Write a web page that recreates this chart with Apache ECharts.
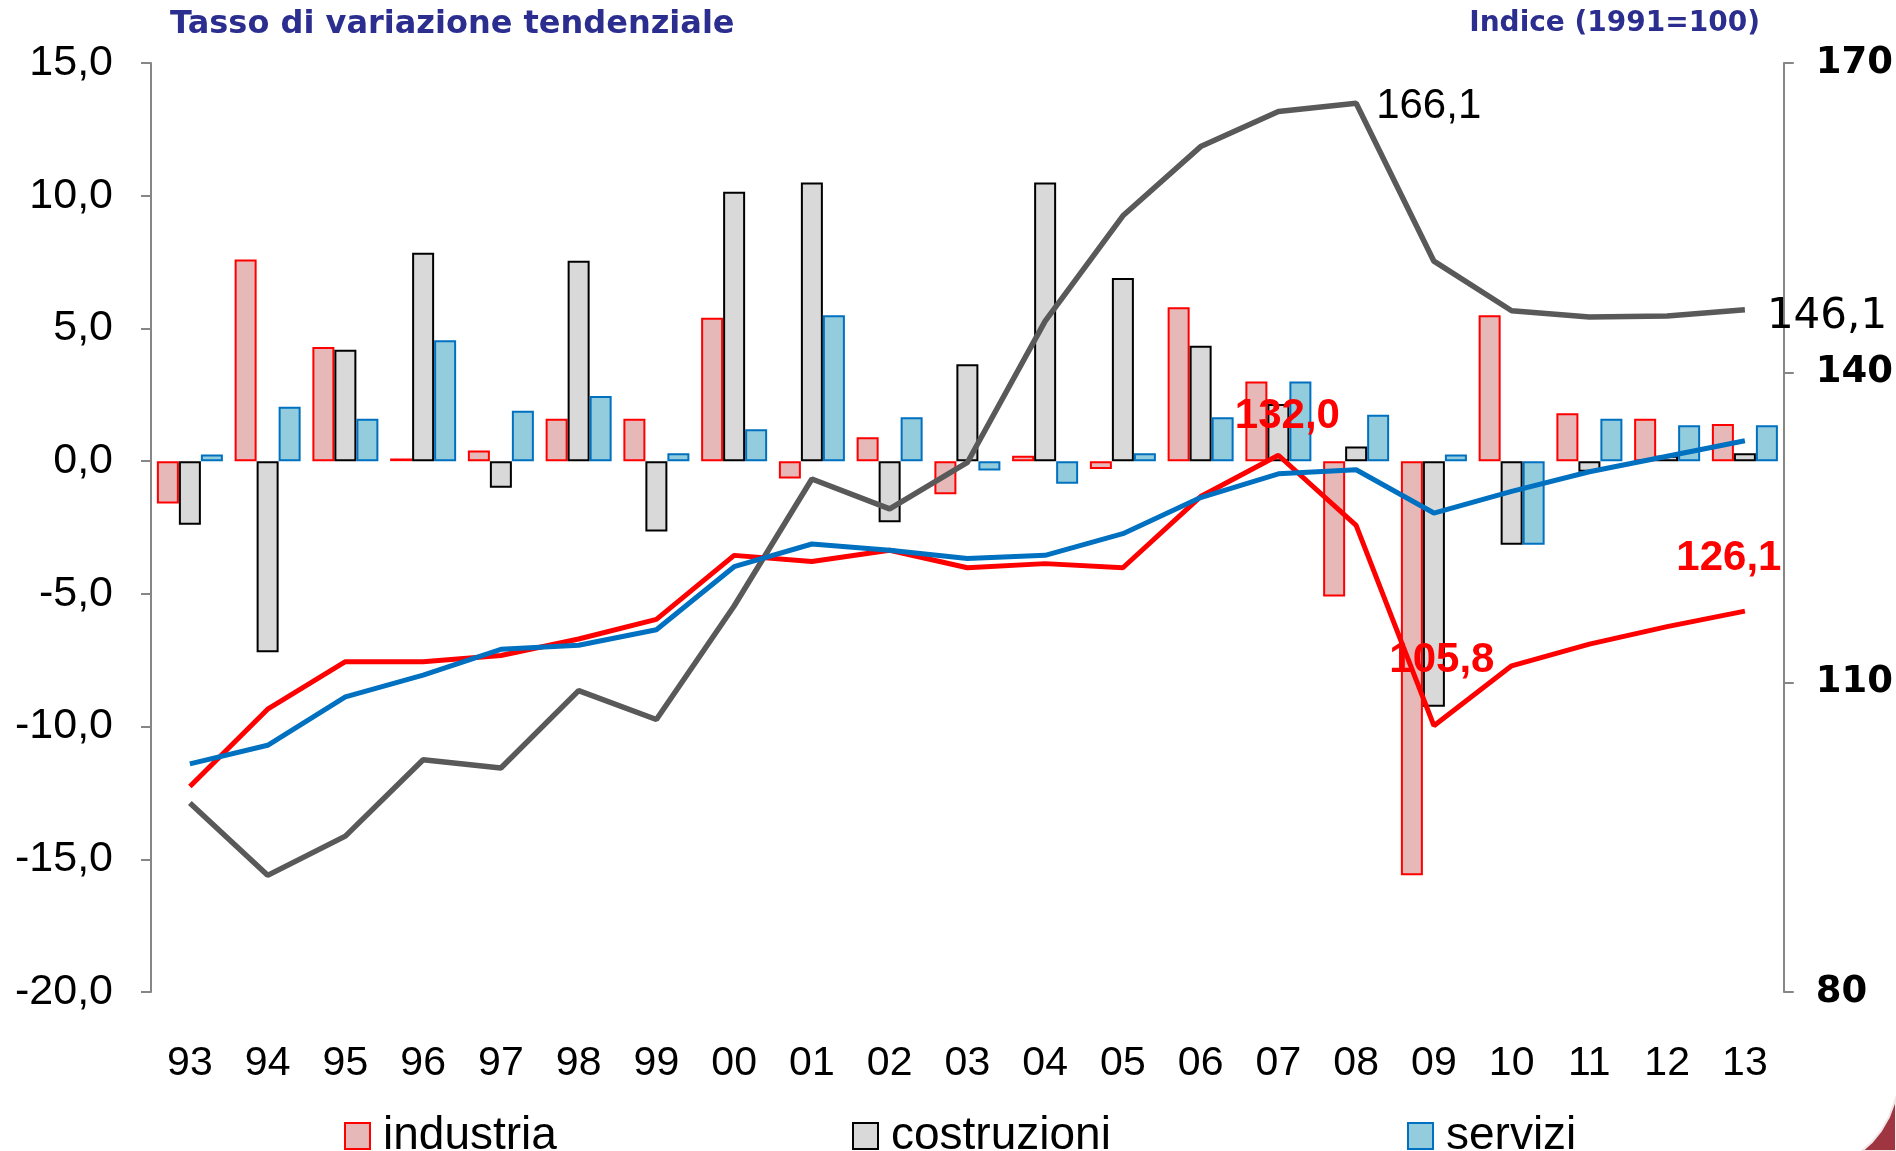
<!DOCTYPE html>
<html>
<head>
<meta charset="utf-8">
<script src="https://cdn.jsdelivr.net/npm/echarts@6/dist/echarts.min.js"></script>
<style>
html, body { margin: 0; padding: 0; background: #fff; }
#chart { width: 1896px; height: 1151px; }
</style>
</head>
<body>
<div id="chart"></div>
<script>
// anni (asse delle categorie)
var anni = ['93','94','95','96','97','98','99','00','01','02','03','04','05','06','07','08','09','10','11','12','13'];

// tassi di variazione tendenziale (asse sinistro)
var industriaVar    = [-1.6, 7.6, 4.3, 0.1, 0.4, 1.6, 1.6, 5.4, -0.65, 0.9, -1.25, 0.2, -0.3, 5.8, 3.0, -5.1, -15.6, 5.5, 1.8, 1.6, 1.4];
var costruzioniVar  = [-2.4, -7.2, 4.2, 7.85, -1.0, 7.55, -2.65, 10.15, 10.5, -2.3, 3.65, 10.5, 6.9, 4.35, 2.15, 0.55, -9.25, -3.15, -0.4, 0.2, 0.3];
var serviziVar      = [0.25, 2.05, 1.6, 4.55, 1.9, 2.45, 0.3, 1.2, 5.5, 1.65, -0.35, -0.85, 0.3, 1.65, 3.0, 1.75, 0.25, -3.15, 1.6, 1.35, 1.35];

// indici 1991=100 (asse destro)
var industriaIdx    = [99.9, 107.4, 112.0, 112.0, 112.6, 114.2, 116.1, 122.3, 121.7, 122.8, 121.1, 121.5, 121.1, 128.0, 132.0, 125.2, 105.8, 111.6, 113.7, 115.4, 116.9];
var costruzioniIdx  = [98.3, 91.3, 95.1, 102.5, 101.7, 109.2, 106.4, 117.4, 129.7, 126.8, 131.3, 145.0, 155.2, 161.9, 165.3, 166.1, 150.8, 146.0, 145.4, 145.5, 146.1];
var serviziIdx      = [102.1, 103.9, 108.6, 110.7, 113.2, 113.6, 115.1, 121.2, 123.4, 122.8, 122.0, 122.3, 124.4, 127.9, 130.2, 130.6, 126.4, 128.5, 130.4, 131.9, 133.4];

// tick asse destro
var tickIndice = [80, 110, 140, 170];

// etichette sui punti (indice anno -> testo)
var etichetteIndustria   = {14: '132,0', 16: '105,8', 20: '126,1'};
var etichetteCostruzioni = {15: '166,1', 20: '146,1'};

var myChart = echarts.init(document.getElementById('chart'));

var rosso = '#FF0000', blu = '#0070C0', grigio = '#595959';

// costruisce i dati di una linea con le etichette su alcuni punti
function conEtichette(valori, etichette, stili){
    return valori.map(function(v, i){
        if (!etichette[i]) return v;
        return {value: v, label: Object.assign({show: true, formatter: etichette[i]}, stili[i])};
    });
}

var option = {
    backgroundColor: '#fff',
    animation: false,
    title: [
        {
            text: 'Tasso di variazione tendenziale',
            left: 170, top: 9, padding: 0,
            textStyle: {fontFamily: 'DejaVu Sans', fontWeight: 'bold', fontSize: 32, color: '#2B2E8E'}
        },
        {
            text: 'Indice (1991=100)',
            right: 136, top: 10, padding: 0,
            textStyle: {fontFamily: 'DejaVu Sans', fontWeight: 'bold', fontSize: 28, color: '#2B2E8E'}
        }
    ],
    legend: [
        {data: ['industria'], left: 344},
        {data: ['costruzioni'], left: 852},
        {data: ['servizi'], left: 1407}
    ].map(function(l){
        return Object.assign({
            top: 1113, icon: 'rect', itemWidth: 25, itemHeight: 26, padding: 0,
            textStyle: {fontFamily: 'Liberation Sans', fontSize: 46, color: '#000', padding: [4, 0, 0, 8]}
        }, l);
    }),
    grid: {left: 151, right: 112, top: 63, bottom: 159, containLabel: false},
    xAxis: {
        type: 'category',
        data: anni,
        axisLine: {show: false},
        axisTick: {show: false},
        axisLabel: {fontFamily: 'Liberation Sans', fontSize: 41, color: '#000', margin: 51}
    },
    yAxis: [
        {
            type: 'value',
            min: -20, max: 15, interval: 5,
            axisLine: {show: true, lineStyle: {color: '#868686', width: 2}},
            axisTick: {show: true, inside: false, length: 10, lineStyle: {color: '#868686', width: 2}},
            splitLine: {show: false},
            axisLabel: {
                fontFamily: 'Liberation Sans', fontSize: 43, color: '#000', margin: 38,
                formatter: function(v){ return v.toFixed(1).replace('.', ','); }
            }
        },
        {
            type: 'value',
            min: 80, max: 170,
            position: 'right',
            axisLine: {show: true, lineStyle: {color: '#868686', width: 2}},
            axisTick: {show: true, length: 10, customValues: tickIndice, lineStyle: {color: '#868686', width: 2}},
            splitLine: {show: false},
            axisLabel: {
                customValues: tickIndice,
                fontFamily: 'DejaVu Sans', fontWeight: 'bold', fontSize: 37, color: '#000', margin: 32
            }
        }
    ],
    series: [
        {
            name: 'industria', type: 'bar', data: industriaVar,
            barWidth: 22, barGap: '0%',
            itemStyle: {color: '#E6B9B8', borderColor: rosso, borderWidth: 2}
        },
        {
            name: 'costruzioni', type: 'bar', data: costruzioniVar,
            barWidth: 22, barGap: '0%',
            itemStyle: {color: '#D9D9D9', borderColor: '#000', borderWidth: 2}
        },
        {
            name: 'servizi', type: 'bar', data: serviziVar,
            barWidth: 22, barGap: '0%',
            itemStyle: {color: '#93CDDD', borderColor: blu, borderWidth: 2}
        },
        {
            name: 'indice costruzioni', type: 'line', yAxisIndex: 1,
            symbol: 'circle', symbolSize: 0,
            lineStyle: {color: grigio, width: 5.5},
            itemStyle: {color: grigio},
            data: conEtichette(costruzioniIdx, etichetteCostruzioni, {
                15: {position: 'right', distance: 20, offset: [0, 3], fontFamily: 'Liberation Sans', fontSize: 42, color: '#000'},
                20: {position: 'right', distance: 22, offset: [0, 7], fontFamily: 'DejaVu Sans', fontSize: 42, color: '#000'}
            })
        },
        {
            name: 'indice industria', type: 'line', yAxisIndex: 1,
            symbol: 'circle', symbolSize: 0,
            lineStyle: {color: rosso, width: 5},
            itemStyle: {color: rosso},
            data: conEtichette(industriaIdx, etichetteIndustria, {
                14: {position: 'top', distance: 18, offset: [9, 0], fontFamily: 'Liberation Sans', fontWeight: 'bold', fontSize: 42, color: rosso},
                16: {position: 'top', distance: 44, offset: [8, 0], fontFamily: 'Liberation Sans', fontWeight: 'bold', fontSize: 42, color: rosso},
                20: {position: 'top', distance: 32, offset: [-16, 0], fontFamily: 'Liberation Sans', fontWeight: 'bold', fontSize: 42, color: rosso}
            })
        },
        {
            name: 'indice servizi', type: 'line', yAxisIndex: 1,
            symbol: 'circle', symbolSize: 0,
            lineStyle: {color: blu, width: 5},
            itemStyle: {color: blu},
            data: serviziIdx
        }
    ],
    graphic: [
        {
            // fregio rosso scuro nell'angolo in basso a destra
            type: 'polygon', silent: true,
            shape: {points: [[1862, 1151], [1872, 1142], [1881, 1131], [1889, 1117], [1896, 1098], [1896, 1151]]},
            style: {fill: '#9E3540', stroke: '#F3E6E8', lineWidth: 2}
        }
    ]
};

myChart.setOption(option);
</script>
</body>
</html>
